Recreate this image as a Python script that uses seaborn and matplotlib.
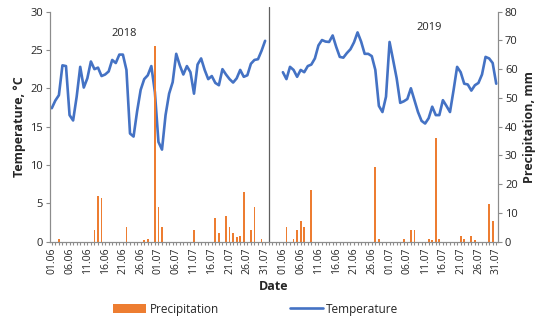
import numpy as np
import pandas as pd
import matplotlib
matplotlib.use("Agg")
import matplotlib.pyplot as plt
from matplotlib.patches import Patch
from matplotlib.lines import Line2D
import seaborn as sns

sns.set_theme(style="white")
plt.rcParams['font.family'] = ['Open Sans', 'DejaVu Sans']

# ---- data ----
tick_labels = ["01.06", "06.06", "11.06", "16.06", "21.06", "26.06", "01.07",
               "06.07", "11.07", "16.07", "21.07", "26.07", "31.07"]

temp_2018 = [17.4, 18.4, 19.1, 23.0, 22.9, 16.5, 15.8, 18.9, 22.8, 20.1,
             21.3, 23.5, 22.5, 22.7, 21.6, 21.8, 22.2, 23.7, 23.3, 24.4,
             24.4, 22.4, 14.1, 13.7, 17.0, 19.8, 21.2, 21.7, 22.9, 19.5,
             13.0, 12.0, 16.5, 19.3, 20.8, 24.5, 23.0, 21.8, 22.9, 22.1,
             19.3, 23.1, 23.9, 22.4, 21.2, 21.6, 20.7, 20.4, 22.5, 21.8,
             21.2, 20.75, 21.3, 22.4, 21.5, 21.7, 23.2, 23.7, 23.8, 24.9,
             26.2]
temp_2019 = [22.1, 21.2, 22.8, 22.4, 21.5, 22.4, 22.1, 22.9, 23.1, 23.9,
             25.6, 26.3, 26.1, 26.05, 26.9, 25.4, 24.1, 24.0, 24.6, 25.1,
             26.0, 27.3, 26.1, 24.5, 24.5, 24.2, 22.4, 17.7, 16.9, 18.9,
             26.05, 23.7, 21.3, 18.1, 18.3, 18.6, 20.0, 18.45, 16.9, 15.75,
             15.4, 16.1, 17.6, 16.5, 16.5, 18.45, 17.7, 16.9, 19.75, 22.8,
             22.1, 20.6, 20.5, 19.7, 20.4, 20.7, 21.8, 24.1, 23.9, 23.3,
             20.6]

precip_2018 = [0, 0, 0.9, 0, 0, 0, 0, 0, 0, 0,
               0, 0, 4.1, 16.0, 15.1, 0, 0, 0, 0, 0,
               0, 5.0, 0, 0, 0, 0, 0.6, 1.0, 0, 68.0,
               12.1, 5.0, 0, 0, 0, 0, 0, 0, 0, 0,
               4.1, 0, 0, 0, 0, 0, 8.1, 3.0, 0, 9.0,
               5.0, 3.0, 1.7, 2.0, 17.2, 0, 4.1, 12.1, 0, 0.9,
               0]
precip_2019 = [0, 5.0, 0, 1.0, 4.1, 7.1, 5.0, 0, 18.1, 0,
               0, 0, 0, 0, 0, 0, 0, 0, 0, 0,
               0, 0, 0, 0, 0, 0, 26.1, 0.9, 0, 0,
               0, 0, 0, 0, 1.0, 0, 4.1, 4.1, 0, 0,
               0, 0.9, 0.5, 36.1, 1.0, 0, 0, 0, 0, 0,
               2.0, 1.0, 0, 2.0, 0.5, 0, 0, 0, 13.0, 7.1,
               0]

# category positions: 2018 days, 4 empty categories, 2019 days
pos_2018 = np.arange(61)
pos_gap = np.arange(61, 65)
pos_2019 = np.arange(65, 126)

df18 = pd.DataFrame({"pos": pos_2018, "temp": temp_2018, "precip": precip_2018})
df19 = pd.DataFrame({"pos": pos_2019, "temp": temp_2019, "precip": precip_2019})
dfgap = pd.DataFrame({"pos": pos_gap, "temp": np.nan, "precip": 0.0})
dfp = pd.concat([df18, dfgap, df19], ignore_index=True)

blue = "#4472C4"
orange = "#ED7D31"
gray = "#8C8C8C"

fig = plt.figure(figsize=(5.5, 3.22), dpi=100)
ax = fig.add_axes([50 / 550, 1 - 241.5 / 322, 448 / 550, 229.8 / 322])
ax2 = ax.twinx()

sns.lineplot(data=df18, x="pos", y="temp", ax=ax, color=blue, linewidth=1.9)
sns.lineplot(data=df19, x="pos", y="temp", ax=ax, color=blue, linewidth=1.9)
sns.barplot(data=dfp, x="pos", y="precip", ax=ax2, order=list(dfp["pos"]),
            color=orange, width=0.5, saturation=1, errorbar=None,
            linewidth=0)

ax.set_xlim(-0.5, 125.5)
ax.set_ylim(0, 30)
ax.set_yticks(np.arange(0, 31, 5))
ax2.set_ylim(0, 80)
ax2.set_yticks(np.arange(0, 81, 10))
ax2.set_xlim(-0.5, 125.5)

major = list(range(0, 61, 5)) + list(range(65, 126, 5))
ax.set_xticks(major)
ax.set_xticklabels(tick_labels + tick_labels, rotation=90, fontsize=7.5)
ax.set_xticks(np.arange(0, 126), minor=True)
ax.tick_params(axis="x", which="both", length=2.5, color=gray, width=0.8,
               direction="out", bottom=True, pad=2)
ax.tick_params(axis="y", length=3, color=gray, width=0.8, direction="out",
               left=True, labelsize=8, pad=2)
ax2.tick_params(axis="y", length=3, color=gray, width=0.8, direction="out",
                right=True, labelsize=8, pad=2)
ax2.tick_params(axis="x", which="both", bottom=False, labelbottom=False)

for a in (ax, ax2):
    a.spines["top"].set_visible(False)
    for s in ("left", "right", "bottom"):
        a.spines[s].set_color(gray)
        a.spines[s].set_linewidth(0.8)
    a.grid(False)

ax.axvline(61, ymin=0, ymax=1.02, color="#606060", linewidth=0.9, clip_on=False)

ax.set_xlabel("Date", fontsize=9, fontweight="bold", labelpad=4)
ax.set_ylabel("Temperature, °C", fontsize=9, fontweight="bold", labelpad=3)
ax2.set_ylabel("Precipitation, mm", fontsize=9, fontweight="bold", labelpad=4)
ax2.set_xlabel("")

ax.text(20.5, 27.2, "2018", fontsize=8, ha="center", va="center")
ax.text(106, 28.0, "2019", fontsize=8, ha="center", va="center")

handles = [Patch(facecolor=orange, edgecolor="none"),
           Line2D([0], [0], color=blue, linewidth=1.9)]
fig.legend(handles, ["Precipitation", "Temperature"], loc="center",
           bbox_to_anchor=(0.465, 0.04), ncol=2, frameon=False, fontsize=8.5,
           handlelength=2.8, columnspacing=6, handletextpad=0.3)

fig.savefig("out.png", dpi=100)
